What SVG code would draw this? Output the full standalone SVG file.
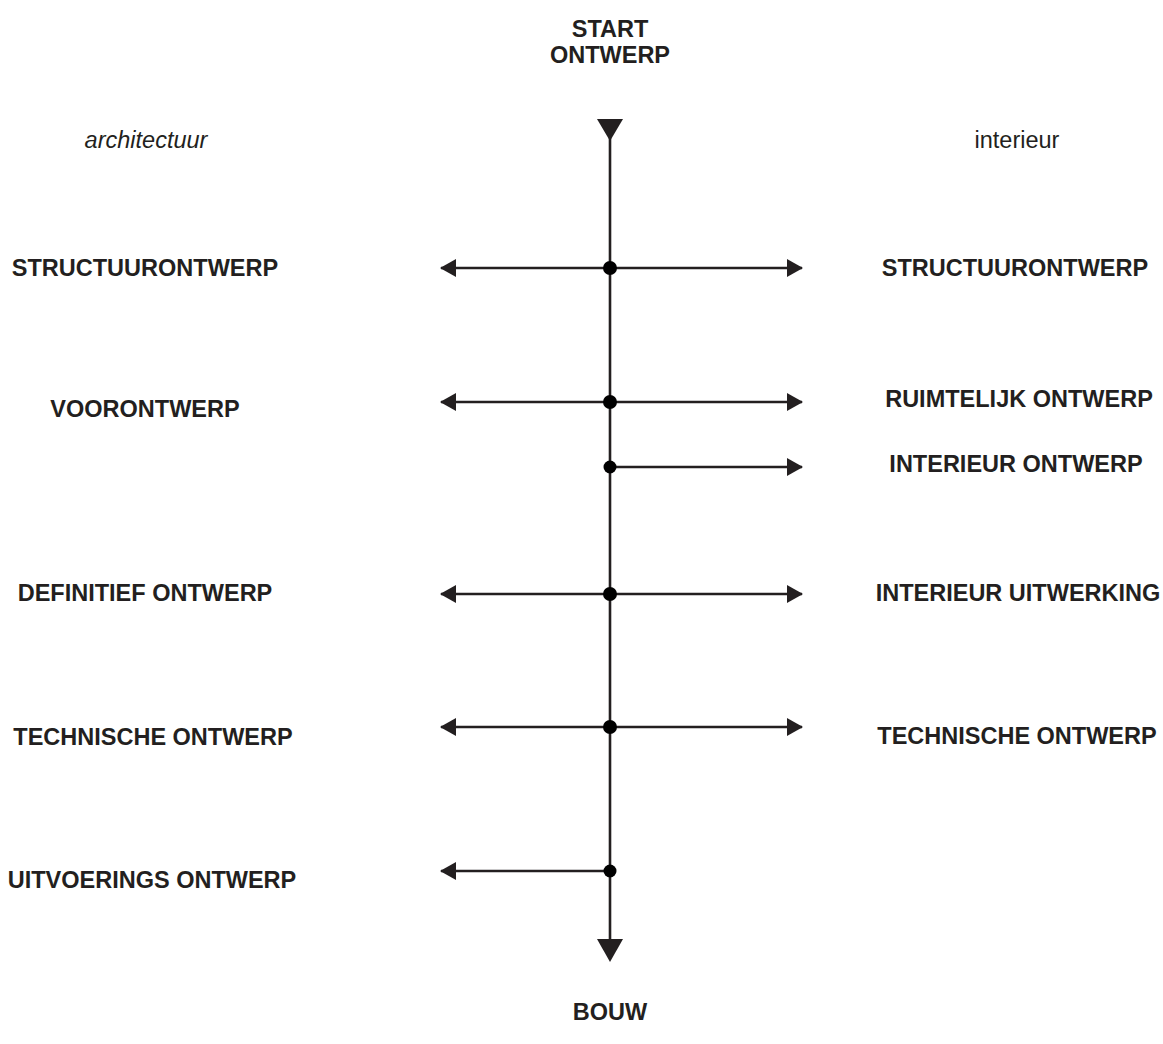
<svg xmlns="http://www.w3.org/2000/svg" width="1163" height="1044" viewBox="0 0 1163 1044">
<defs>
<style>
.t{font-family:"Liberation Sans",Arial,sans-serif;font-size:23.5px;font-weight:bold;fill:#231f20;text-anchor:middle}
.h{font-family:"Liberation Sans",Arial,sans-serif;font-size:23.5px;fill:#231f20;text-anchor:middle}
.ln{stroke:#231f20;stroke-width:2.6;fill:none}
.dot{fill:#000}
.ah{fill:#231f20}
</style>
<marker id="arr" viewBox="0 0 16 18" refX="15" refY="9" markerWidth="16" markerHeight="18" markerUnits="userSpaceOnUse" orient="auto">
<path d="M0,0 L16,9 L0,18 Z" class="ah"/>
</marker>
</defs>
<rect width="1163" height="1044" fill="#fff"/>
<g id="start"><text class="t" x="610" y="37">START</text><text class="t" x="610" y="63">ONTWERP</text></g>
<g id="bouw"><text class="t" x="610" y="1020">BOUW</text></g>
<g id="col-architectuur"><text class="h" x="146" y="148" font-style="italic">architectuur</text></g>
<g id="col-interieur"><text class="h" x="1017" y="148">interieur</text></g>
<g id="l-structuur"><text class="t" x="145" y="276">STRUCTUURONTWERP</text></g>
<g id="l-voorontwerp"><text class="t" x="145" y="417">VOORONTWERP</text></g>
<g id="l-definitief"><text class="t" x="145" y="601">DEFINITIEF ONTWERP</text></g>
<g id="l-technische"><text class="t" x="153" y="745">TECHNISCHE ONTWERP</text></g>
<g id="l-uitvoerings"><text class="t" x="152" y="888">UITVOERINGS ONTWERP</text></g>
<g id="r-structuur"><text class="t" x="1015" y="276">STRUCTUURONTWERP</text></g>
<g id="r-ruimtelijk"><text class="t" x="1019" y="407">RUIMTELIJK ONTWERP</text></g>
<g id="r-interieur-ontwerp"><text class="t" x="1016" y="472">INTERIEUR ONTWERP</text></g>
<g id="r-interieur-uitwerking"><text class="t" x="1018" y="601">INTERIEUR UITWERKING</text></g>
<g id="r-technische"><text class="t" x="1017" y="744">TECHNISCHE ONTWERP</text></g>
<g id="connectors">
<line class="ln" x1="610" y1="125" x2="610" y2="945"/>
<path class="ah" d="M597,119 L623,119 L610,141 Z"/>
<path class="ah" d="M597,939 L623,939 L610,962 Z"/>
<line class="ln" x1="610" y1="268" x2="441" y2="268" marker-end="url(#arr)"/>
<line class="ln" x1="610" y1="268" x2="802" y2="268" marker-end="url(#arr)"/>
<line class="ln" x1="610" y1="402" x2="441" y2="402" marker-end="url(#arr)"/>
<line class="ln" x1="610" y1="402" x2="802" y2="402" marker-end="url(#arr)"/>
<line class="ln" x1="610" y1="467" x2="802" y2="467" marker-end="url(#arr)"/>
<line class="ln" x1="610" y1="594" x2="441" y2="594" marker-end="url(#arr)"/>
<line class="ln" x1="610" y1="594" x2="802" y2="594" marker-end="url(#arr)"/>
<line class="ln" x1="610" y1="727" x2="441" y2="727" marker-end="url(#arr)"/>
<line class="ln" x1="610" y1="727" x2="802" y2="727" marker-end="url(#arr)"/>
<line class="ln" x1="610" y1="871" x2="441" y2="871" marker-end="url(#arr)"/>
<circle class="dot" cx="610" cy="268" r="7"/>
<circle class="dot" cx="610" cy="402" r="7"/>
<circle class="dot" cx="610" cy="467" r="6.5"/>
<circle class="dot" cx="610" cy="594" r="7"/>
<circle class="dot" cx="610" cy="727" r="7"/>
<circle class="dot" cx="610" cy="871" r="6.5"/>
</g>
</svg>
